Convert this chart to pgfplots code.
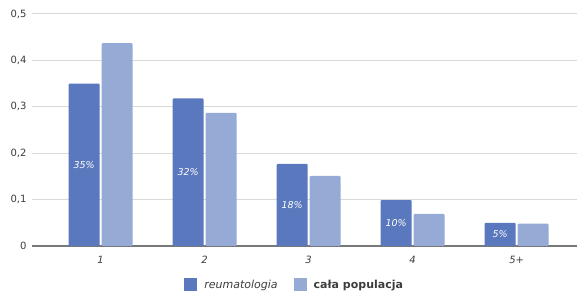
\documentclass[border=0pt]{standalone}
\usepackage{pgfplots}
\pgfplotsset{compat=1.18}
\usepackage{fontspec}
\setmainfont{DejaVu Sans}
\definecolor{darkb}{RGB}{90,120,189}
\definecolor{lightb}{RGB}{149,170,212}
\definecolor{gridc}{RGB}{217,217,217}
\definecolor{axc}{RGB}{120,120,120}
\definecolor{txt}{RGB}{60,60,60}
\begin{document}
\begin{tikzpicture}
\begin{axis}[
  scale only axis,
  width=545pt, height=232pt,
  xmin=-0.66, xmax=4.58,
  ymin=0, ymax=0.5,
  ytick={0,0.1,0.2,0.3,0.4,0.5},
  xtick={0,1,2,3,4},
  xticklabels={\textit{1},\textit{2},\textit{3},\textit{4},\textit{5+}},
  /pgf/number format/use comma,
  /pgf/number format/assume math mode=true,
  ymajorgrids,
  grid style={gridc, line width=1pt},
  axis x line*=bottom,
  axis y line*=left,
  x axis line style={-, draw=axc, line width=1.3pt},
  y axis line style={draw=none},
  major tick length=0pt,
  tick label style={font=\fontsize{10}{12}\selectfont, text=txt},
  yticklabel style={xshift=-2pt},
  xticklabel style={yshift=-7pt},
  ybar=2pt,
  bar width=31pt,
  legend style={at={(0.482,-0.168)}, anchor=center, draw=none, fill=none,
    legend columns=2, font=\fontsize{11}{13}\selectfont, text=txt,
    /tikz/every odd column/.append style={column sep=5pt},
    /tikz/every even column/.append style={column sep=14pt}},
  legend image code/.code={\fill[#1, sharp corners] (0pt,-6.5pt) rectangle (13pt,6.5pt);},
]
\addplot[fill=darkb, draw=none, rounded corners=1pt,
  point meta=explicit symbolic,
  nodes near coords,
  visualization depends on={rawy \as \rawy},
  every node near coord/.append style={anchor=center, text=white,
    font=\fontsize{9.5}{11}\selectfont\itshape, rounded corners=0pt,
    shift={(axis direction cs:0,-\rawy/2)}},
] coordinates {
  (0,0.35) [35\%]
  (1,0.318) [32\%]
  (2,0.177) [18\%]
  (3,0.099) [10\%]
  (4,0.05) [5\%]
};
\addplot[fill=lightb, draw=none, rounded corners=1pt] coordinates {
  (0,0.437)
  (1,0.287)
  (2,0.151)
  (3,0.069)
  (4,0.048)
};
\legend{\textit{reumatologia},\textbf{cała populacja}}
\end{axis}
\pgfresetboundingbox
\path ([shift={(-32pt,-47pt)}]current axis.south west) rectangle ([shift={(0pt,14pt)}]current axis.north east);
\end{tikzpicture}
\end{document}
